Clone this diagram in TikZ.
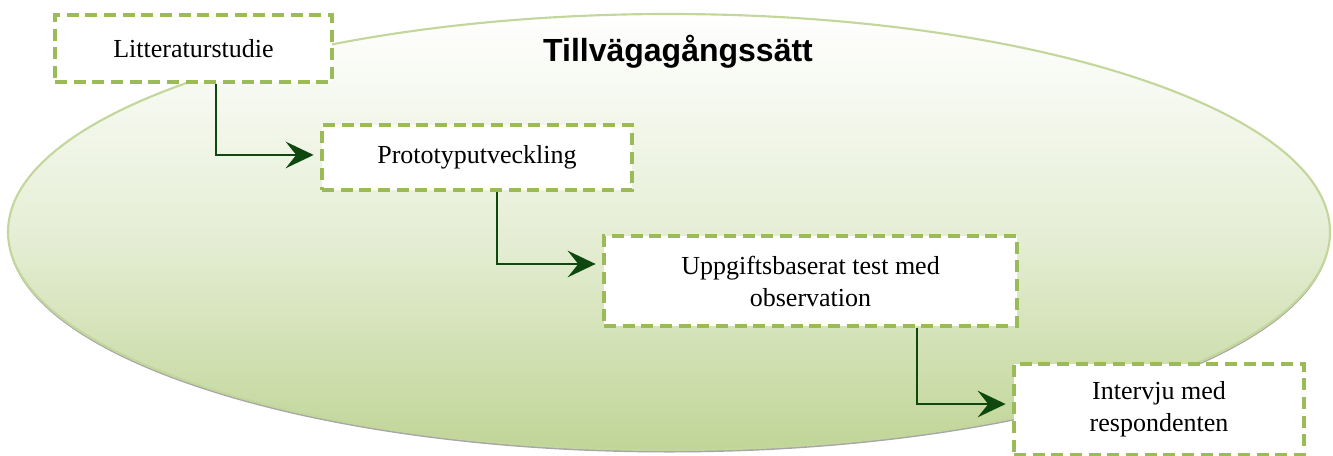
\documentclass[tikz,border=0pt]{standalone}
\usepackage{fontspec}
\setmainfont{Liberation Serif}
\newfontfamily\titlefont{Liberation Sans}
\usetikzlibrary{arrows.meta,calc}
\definecolor{boxline}{RGB}{155,187,89}
\definecolor{ellline}{RGB}{195,214,155}
\definecolor{ellbottom}{RGB}{192,213,151}
\definecolor{arrowgreen}{RGB}{14,72,14}
\tikzset{
  stepbox/.style={draw=boxline, line width=2.6pt, dash pattern=on 9pt off 5pt,
    fill=white, inner sep=2pt, align=center,
    font=\fontsize{19.5}{24}\selectfont},
  flow/.style={draw=arrowgreen, line width=1.2pt,
    -{Stealth[length=21pt,width=20pt,inset=8pt]}, shorten >=5pt},
}
\begin{document}
\begin{tikzpicture}[x=0.75pt,y=-0.75pt]
\useasboundingbox (0,0) rectangle (1333,456);
% ellipse shadow and body
\fill[gray!70] (669,234.5) ellipse [x radius=495.75pt, y radius=163.5pt];
\shade[top color=white, bottom color=ellbottom, middle color=ellbottom!40]
  (669,232) ellipse [x radius=495.75pt, y radius=163.5pt];
\draw[ellline, line width=1.6pt] (669,232) ellipse [x radius=495.75pt, y radius=163.5pt];
\node[font=\titlefont\bfseries\fontsize{24}{28}\selectfont] (title) at (678,52) {Tillvägagångssätt};
% boxes
\node[stepbox, minimum width=207.75pt, minimum height=50.25pt] (b1) at (193.5,48.5) {Litteraturstudie};
\node[stepbox, minimum width=232.5pt, minimum height=48.75pt] (b2) at (477,157.5) {Prototyputveckling};
\node[stepbox, minimum width=309.75pt, minimum height=67.5pt] (b3) at (810.5,281) {Uppgiftsbaserat test med\\observation};
\node[stepbox, minimum width=217.5pt, minimum height=68.25pt] (b4) at (1159,409.5) {Intervju med\\respondenten};
% connectors
\draw[flow] (216,0 |- b1.south) |- ([yshift=1.9pt]b2.west);
\draw[flow] (497,0 |- b2.south) |- ([yshift=12.75pt]b3.west);
\draw[flow] (917,0 |- b3.south) |- ([yshift=4.1pt]b4.west);
\end{tikzpicture}
\end{document}
